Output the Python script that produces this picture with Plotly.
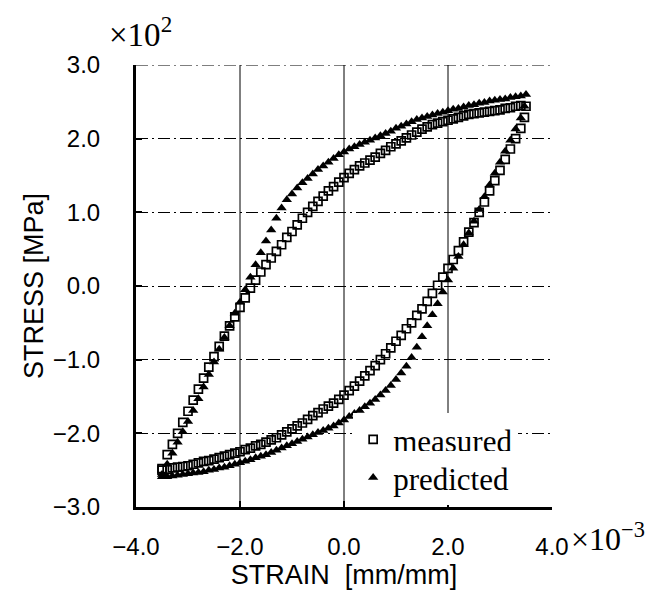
import plotly.graph_objects as go

# ---------------- data (strain x1e-3, stress x1e2 MPa) ----------------
STRAIN_UP = [-3.5, -3.4, -3.3, -3.2, -3.1, -3.0, -2.9, -2.8, -2.7, -2.6,
             -2.5, -2.4, -2.3, -2.2, -2.1, -2.0, -1.9, -1.8, -1.7, -1.6,
             -1.5, -1.4, -1.3, -1.2, -1.1, -1.0, -0.9, -0.8, -0.7, -0.6,
             -0.5, -0.4, -0.3, -0.2, -0.1, 0.0, 0.1, 0.2, 0.3, 0.4,
             0.5, 0.6, 0.7, 0.8, 0.9, 1.0, 1.1, 1.2, 1.3, 1.4,
             1.5, 1.6, 1.7, 1.8, 1.9, 2.0, 2.1, 2.2, 2.3, 2.4,
             2.5, 2.6, 2.7, 2.8, 2.9, 3.0, 3.1, 3.2, 3.3, 3.4, 3.5]

MEAS_UP = [-2.48, -2.29, -2.15, -2.00, -1.85, -1.70, -1.55, -1.40, -1.25, -1.10,
           -0.96, -0.82, -0.68, -0.54, -0.42, -0.29, -0.16, -0.03, 0.08, 0.19,
           0.29, 0.38, 0.47, 0.56, 0.66, 0.74, 0.83, 0.92, 1.00, 1.08,
           1.15, 1.22, 1.29, 1.35, 1.41, 1.47, 1.53, 1.58, 1.63, 1.67,
           1.71, 1.75, 1.80, 1.84, 1.89, 1.93, 1.97, 2.01, 2.05, 2.09,
           2.13, 2.16, 2.19, 2.21, 2.23, 2.25, 2.27, 2.29, 2.31, 2.33,
           2.34, 2.35, 2.36, 2.37, 2.38, 2.39, 2.41, 2.42, 2.44, 2.45, 2.44]

PRED_UP = [-2.56, -2.42, -2.27, -2.12, -1.98, -1.84, -1.69, -1.53, -1.37, -1.20,
           -1.03, -0.86, -0.70, -0.54, -0.37, -0.22, -0.05, 0.12, 0.29, 0.45,
           0.61, 0.76, 0.92, 1.06, 1.17, 1.25, 1.33, 1.40, 1.46, 1.52,
           1.58, 1.63, 1.68, 1.73, 1.78, 1.82, 1.86, 1.89, 1.92, 1.95,
           1.98, 2.01, 2.04, 2.07, 2.10, 2.14, 2.17, 2.20, 2.23, 2.26,
           2.28, 2.30, 2.32, 2.34, 2.36, 2.38, 2.40, 2.41, 2.43, 2.45,
           2.46, 2.48, 2.49, 2.51, 2.52, 2.53, 2.54, 2.56, 2.57, 2.58, 2.60]

STRAIN_DOWN = [3.47, 3.4, 3.3, 3.2, 3.1, 3.0, 2.9, 2.8, 2.7, 2.6,
               2.5, 2.4, 2.3, 2.2, 2.1, 2.0, 1.9, 1.8, 1.7, 1.6,
               1.5, 1.4, 1.3, 1.2, 1.1, 1.0, 0.9, 0.8, 0.7, 0.6,
               0.5, 0.4, 0.3, 0.2, 0.1, 0.0, -0.1, -0.2, -0.3, -0.4,
               -0.5, -0.6, -0.7, -0.8, -0.9, -1.0, -1.1, -1.2, -1.3, -1.4,
               -1.5, -1.6, -1.7, -1.8, -1.9, -2.0, -2.1, -2.2, -2.3, -2.4,
               -2.5, -2.6, -2.7, -2.8, -2.9, -3.0, -3.1, -3.2, -3.3, -3.4, -3.5]

MEAS_DOWN = [2.29, 2.14, 2.00, 1.86, 1.72, 1.57, 1.43, 1.29, 1.14, 1.00,
             0.86, 0.73, 0.60, 0.48, 0.36, 0.24, 0.12, 0.01, -0.10, -0.21,
             -0.31, -0.40, -0.50, -0.58, -0.67, -0.75, -0.84, -0.92, -1.00, -1.08,
             -1.15, -1.22, -1.29, -1.36, -1.42, -1.48, -1.54, -1.59, -1.63, -1.67,
             -1.72, -1.76, -1.81, -1.86, -1.90, -1.94, -1.98, -2.02, -2.06, -2.09,
             -2.12, -2.15, -2.17, -2.20, -2.22, -2.25, -2.27, -2.29, -2.31, -2.33,
             -2.35, -2.37, -2.38, -2.40, -2.42, -2.44, -2.45, -2.46, -2.47, -2.49, -2.50]

PRED_DOWN = [2.44, 2.28, 2.13, 1.98, 1.83, 1.68, 1.53, 1.37, 1.21, 1.04,
             0.88, 0.72, 0.56, 0.40, 0.24, 0.08, -0.08, -0.24, -0.39, -0.54,
             -0.69, -0.83, -0.97, -1.09, -1.18, -1.27, -1.35, -1.42, -1.48, -1.54,
             -1.59, -1.64, -1.69, -1.73, -1.77, -1.82, -1.86, -1.90, -1.93, -1.96,
             -1.99, -2.02, -2.05, -2.08, -2.11, -2.14, -2.17, -2.20, -2.23, -2.26,
             -2.29, -2.31, -2.33, -2.36, -2.38, -2.40, -2.42, -2.44, -2.46, -2.47,
             -2.49, -2.50, -2.52, -2.53, -2.54, -2.55, -2.56, -2.57, -2.58, -2.59, -2.59]

X_TICKS = [-4, -2, 0, 2, 4]
X_TICK_TEXT = ["−4.0", "−2.0", "0.0", "2.0", "4.0"]
Y_TICKS = [-3, -2, -1, 0, 1, 2, 3]
Y_TICK_TEXT = ["−3.0", "−2.0", "−1.0", "0.0", "1.0", "2.0", "3.0"]
GRID_X = [-2, 0, 2]

SERIF = "Liberation Serif, Times New Roman, serif"
GRID_DASH = "12px,4px,2px,4px"

# ---------------- figure ----------------
fig = go.Figure()
fig.add_trace(go.Scatter(
    x=STRAIN_UP + STRAIN_DOWN, y=MEAS_UP + MEAS_DOWN,
    mode="markers", name="measured", legend="legend",
    marker=dict(symbol="square-open", size=8, color="black",
                line=dict(width=1.7, color="black")),
))
fig.add_trace(go.Scatter(
    x=STRAIN_UP + STRAIN_DOWN, y=PRED_UP + PRED_DOWN,
    mode="markers", name="predicted", legend="legend2",
    marker=dict(symbol="triangle-up", size=9, color="black"),
))

for gx in GRID_X:
    fig.add_vline(x=gx, line=dict(color="black", width=1), layer="below")
# dashed frame line along the top (y = 3.0 gridline)
fig.add_hline(y=Y_TICKS[-1], line=dict(color="black", width=1, dash=GRID_DASH), layer="below")

legend_common = dict(xanchor="left", yanchor="middle", bgcolor="white", borderwidth=0,
                     font=dict(family=SERIF, size=31))

fig.update_layout(
    width=666, height=598,
    margin=dict(l=128, r=122, t=57, b=99),
    paper_bgcolor="white", plot_bgcolor="white",
    font=dict(family="Liberation Sans, Arial, sans-serif", color="black"),
    showlegend=True,
    legend=dict(x=0.522, y=0.152, **legend_common),
    legend2=dict(x=0.522, y=0.066, **legend_common),
    xaxis=dict(range=[-4, 4], tickvals=X_TICKS, ticktext=X_TICK_TEXT,
               showgrid=False, zeroline=False,
               showline=True, linewidth=3, linecolor="black",
               ticks="inside", ticklen=6, tickwidth=1.5, tickcolor="black",
               ticklabelstandoff=16,
               tickfont=dict(size=24),
               title=dict(text="STRAIN  [mm/mm]", font=dict(size=27), standoff=4)),
    yaxis=dict(range=[-3, 3], tickvals=Y_TICKS, ticktext=Y_TICK_TEXT,
               showgrid=True, gridcolor="black", gridwidth=1,
               griddash=GRID_DASH,
               zeroline=False,
               showline=True, linewidth=3, linecolor="black",
               ticks="inside", ticklen=6, tickwidth=1.5, tickcolor="black",
               ticklabelstandoff=28,
               tickfont=dict(size=24),
               title=dict(text="STRESS [MPa]", font=dict(size=27), standoff=2)),
    annotations=[
        dict(text="×10<sup>2</sup>", xref="paper", yref="paper",
             x=-0.07, y=1.022, xanchor="left", yanchor="bottom", showarrow=False,
             font=dict(family=SERIF, size=33)),
        dict(text="×10<sup>−3</sup>", xref="paper", yref="paper",
             x=1.042, y=-0.118, xanchor="left", yanchor="bottom", showarrow=False,
             font=dict(family=SERIF, size=32)),
    ],
)

fig.write_html("out.html")
